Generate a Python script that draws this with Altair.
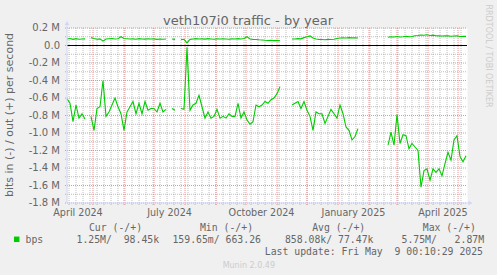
import altair as alt
import pandas as pd

# ---- data (values in megabits per second), one sample every 3 days ----
start_date = "2024-04-05"
incoming = [
    -0.61, -0.66, -0.87, -0.68, -0.83, -0.78, -0.84, None, -0.81, -0.97,
    -0.72, -0.70, -0.40, -0.81, -0.76, -0.68, -0.60, -0.70, -0.78, -0.97,
    -0.76, -0.70, -0.64, -0.78, -0.66, -0.78, -0.64, -0.74, -0.72, -0.72,
    -0.76, -0.66, -0.76, -0.73, None, -0.72, -0.74, None, -0.72, -0.73,
    -0.02, -0.74, -0.68, -0.66, -0.57, -0.70, -0.83, -0.76, -0.83, -0.81,
    -0.73, -0.83, -0.81, -0.83, -0.78, -0.81, -0.81, -0.66, -0.83, -0.76,
    -0.85, -0.90, -0.87, -0.68, -0.70, -0.68, -0.64, -0.66, -0.62, -0.60,
    -0.55, -0.47, None, None, None, -0.68, -0.66, -0.64, -0.72, -0.64,
    -0.74, -0.81, -0.97, -0.76, -0.78, -0.78, -0.89, -0.81, -0.73, -0.78,
    -0.83, -0.68, -0.78, -0.93, -0.97, -1.08, -1.04, -0.95, None, None,
    None, None, None, None, None, None, None, -1.14, -0.99, -1.14,
    -0.79, -1.12, -1.02, -1.03, -1.18, -1.12, -1.16, -1.20, -1.62, -1.43,
    -1.41, -1.54, -1.41, -1.45, -1.41, -1.49, -1.35, -1.22, -1.31, -1.08,
    -1.03, -1.27, -1.33, -1.26,
]
outgoing = [
    0.075, 0.080, 0.070, 0.078, 0.072, 0.075, 0.076, None, 0.090, 0.080,
    0.072, 0.076, 0.050, 0.075, 0.078, 0.080, 0.075, 0.078, 0.100, 0.080,
    0.078, 0.074, 0.076, 0.072, 0.078, 0.075, 0.073, 0.077, 0.074, 0.076,
    0.070, 0.075, 0.072, 0.074, None, 0.075, 0.070, None, 0.068, 0.070,
    0.030, 0.070, 0.075, 0.078, 0.074, 0.076, 0.073, 0.078, 0.075, 0.072,
    0.076, 0.074, 0.077, 0.075, 0.072, 0.076, 0.074, 0.078, 0.075, 0.080,
    0.100, 0.075, 0.070, 0.068, 0.065, 0.063, 0.060, 0.058, 0.060, 0.056,
    0.058, 0.055, None, None, None, 0.075, 0.074, 0.078, 0.076, 0.090,
    0.100, 0.110, 0.085, 0.075, 0.070, 0.068, 0.066, 0.070, 0.068, 0.072,
    0.080, 0.086, 0.088, 0.085, 0.090, 0.087, 0.088, 0.085, None, None,
    None, None, None, None, None, None, None, 0.095, 0.100, 0.098,
    0.102, 0.097, 0.100, 0.105, 0.100, 0.103, 0.112, 0.115, 0.120, 0.118,
    0.122, 0.115, 0.118, 0.112, 0.110, 0.108, 0.112, 0.110, 0.105, 0.108,
    0.110, 0.103, 0.106, 0.104,
]

y_major = [-1.8, -1.6, -1.4, -1.2, -1.0, -0.8, -0.6, -0.4, -0.2, 0.0, 0.2]
y_labels = ["-1.8 M", "-1.6 M", "-1.4 M", "-1.2 M", "-1.0 M", "-0.8 M", "-0.6 M",
            "-0.4 M", "-0.2 M", "0.0", "0.2 M"]
y_minor = [-1.7, -1.5, -1.3, -1.1, -0.9, -0.7, -0.5, -0.3, -0.1, 0.1]
month_starts = ["2024-05-01", "2024-06-01", "2024-07-01", "2024-08-01", "2024-09-01",
                "2024-10-01", "2024-11-01", "2024-12-01", "2025-01-01", "2025-02-01",
                "2025-03-01", "2025-04-01", "2025-05-01"]
x_label_dates = ["2024-04-16", "2024-07-16T12:00", "2024-10-16T12:00",
                 "2025-01-16T12:00", "2025-04-16"]
x_labels = ["April 2024", "July 2024", "October 2024", "January 2025", "April 2025"]
domain_dates = ["2024-04-05", "2025-05-10"]

legend_headers = ["Cur (-/+)", "Min (-/+)", "Avg (-/+)", "Max (-/+)"]
legend_values = ["1.25M/\u00a0\u00a098.45k", "159.65m/\u00a0663.26",
                 "858.08k/\u00a077.47k", "5.75M/\u00a0\u00a0\u00a02.87M"]


def ms(s):
    return int(pd.Timestamp(s).value // 10**6)


def series_rows(vals, name):
    dates = pd.date_range(start_date, periods=len(vals), freq="3D")
    rows, seg = [], 0
    for d, v in zip(dates, vals):
        if v is None:
            seg += 1
            continue
        rows.append({"t": int(d.value // 10**6), "v": v, "seg": f"{name}{seg}"})
    return rows


df = pd.DataFrame(series_rows(incoming, "in") + series_rows(outgoing, "out"))

xscale = alt.Scale(type="utc", domain=[ms(domain_dates[0]), ms(domain_dates[1])])
yscale = alt.Scale(domain=[-1.8, 0.2], nice=False, zero=False)

GREEN = "#00CC00"
FONT = "DejaVu Sans"
MONO = "DejaVu Sans Mono"
TXT = "#666666"
AXISC = "#CFD6F8"

week_df = pd.DataFrame({"t": [int(d.value // 10**6) for d in
                              pd.date_range("2024-04-07", "2025-05-09", freq="7D")]})
month_df = pd.DataFrame({"t": [ms(s) for s in month_starts]})

X = lambda: alt.X("t:T", scale=xscale, axis=None)
Y = lambda: alt.Y("v:Q", scale=yscale, axis=None)

minor_v = alt.Chart(week_df).mark_rule(color="#8C8C8C", opacity=0.55, strokeDash=[1, 1], strokeWidth=1).encode(
    x=X(), y=alt.value(0), y2=alt.value(177))
major_v = alt.Chart(month_df).mark_rule(color="#F08080", opacity=0.85, strokeDash=[1, 1], strokeWidth=1).encode(
    x=X(), y=alt.value(0), y2=alt.value(178))
minor_h = alt.Chart(pd.DataFrame({"v": y_minor})).mark_rule(color="#8C8C8C", opacity=0.55, strokeDash=[1, 1]).encode(
    y=Y(), x=alt.value(-2), x2=alt.value(400))
major_h = alt.Chart(pd.DataFrame({"v": y_major})).mark_rule(color="#F08080", opacity=0.85, strokeDash=[1, 1]).encode(
    y=Y(), x=alt.value(-2), x2=alt.value(400))

lines = alt.Chart(df).mark_line(color=GREEN, strokeWidth=1.1).encode(
    x=X(), y=Y(), detail="seg:N")

ylab = alt.Chart(pd.DataFrame({"v": y_major, "lab": y_labels})).mark_text(
    font=FONT, fontSize=10, color=TXT, align="right", baseline="middle").encode(
    y=Y(), x=alt.value(-7), text="lab:N")
xlab = alt.Chart(pd.DataFrame({"t": [ms(s) for s in x_label_dates], "lab": x_labels})).mark_text(
    font=FONT, fontSize=9.6, color=TXT, align="center", baseline="alphabetic").encode(
    x=X(), y=alt.value(188), text="lab:N")

zero = alt.Chart(pd.DataFrame({"v": [0.0]})).mark_rule(color="black", strokeWidth=1).encode(y=Y())

one = pd.DataFrame({"a": [0]})
axis_y = alt.Chart(one).mark_rule(color=AXISC, strokeWidth=1).encode(
    x=alt.value(0), y=alt.value(-5), y2=alt.value(175))
axis_x = alt.Chart(one).mark_rule(color=AXISC, strokeWidth=1).encode(
    x=alt.value(0), x2=alt.value(402), y=alt.value(175))
arrow_up = alt.Chart(one).mark_point(shape="triangle-up", filled=True, color=AXISC, opacity=1, size=22).encode(
    x=alt.value(0), y=alt.value(-5))
arrow_right = alt.Chart(one).mark_point(shape="triangle-right", filled=True, color=AXISC, opacity=1, size=22).encode(
    x=alt.value(403.5), y=alt.value(175))


def txt(s, x, y, font=FONT, size=10, color=TXT, align="left", baseline="alphabetic", angle=0):
    kw = dict(text=s, font=font, fontSize=size, color=color, align=align, baseline=baseline)
    if angle:
        kw["angle"] = angle
    return alt.Chart(one).mark_text(**kw).encode(x=alt.value(x), y=alt.value(y))


texts = [
    txt("veth107i0 traffic - by year", 181, -3, size=13, align="center"),
    txt("bits in (-) / out (+) per second", -57, 87, size=11, align="center",
        baseline="middle", angle=270),
    txt("RRDTOOL / TOBI OETIKER", 420.5, 28, size=8, color="#CCCCCC", align="center",
        baseline="middle", angle=90),
    txt("bps", -41.5, 215, font=MONO, size=9.8),
    txt("Last update:\u00a0Fri\u00a0May\u00a0\u00a09\u00a000:10:29\u00a02025", 416, 226.5,
        font=MONO, size=9.8, align="right"),
    txt("Munin 2.0.49", 181.8, 239.5, size=8, color="#CCCCCC", align="center"),
]
for s, cx in zip(legend_headers, [48.5, 159.5, 271.7, 382.3]):
    texts.append(txt(s, cx, 202.5, font=MONO, size=9.8, align="center"))
for s, cx in zip(legend_values, [50.8, 149.7, 262.2, 375.8]):
    texts.append(txt(s, cx, 215, font=MONO, size=9.8, align="center"))

swatch = alt.Chart(one).mark_square(color=GREEN, filled=True, opacity=1, size=30).encode(
    x=alt.value(-50.3), y=alt.value(211.3))

chart = alt.layer(
    minor_v, minor_h, major_v, major_h, zero, lines, ylab, xlab, axis_y, axis_x, arrow_up,
    arrow_right, swatch, *texts
).properties(
    width=400, height=175,
    autosize=alt.AutoSizeParams(type="none"),
    padding={"left": 67, "top": 28, "right": 30, "bottom": 72},
    background="#F0F0F0",
).configure_view(stroke="transparent", fill="#FFFFFF")

chart.save("out.html", embed_options={"renderer": "svg", "actions": False})
